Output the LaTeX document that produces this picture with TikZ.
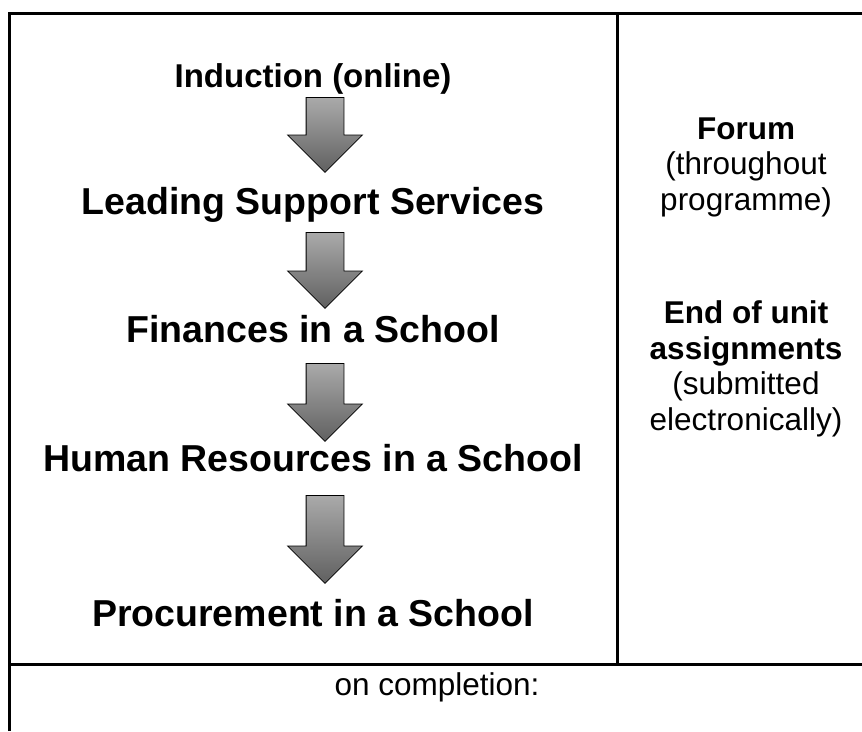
\documentclass[tikz,border=0pt]{standalone}
\usepackage{fontspec}
\setmainfont{Liberation Sans}
\usepackage{xcolor}
\usetikzlibrary{shapes.arrows}

\definecolor{arrtop}{RGB}{170,170,170}
\definecolor{arrbottom}{RGB}{96,96,96}

\begin{document}
\begin{tikzpicture}[x=1pt,y=-1pt,
    unitname/.style={font=\fontsize{37.5}{40}\selectfont\bfseries, anchor=base, inner sep=0pt},
    unittitle/.style={font=\fontsize{33}{36}\selectfont\bfseries, anchor=base, inner sep=0pt},
    sidenote/.style={font=\fontsize{31.5}{35.5}\selectfont, align=center, anchor=base, inner sep=0pt},
    downarrow/.style={shape=single arrow, shape border rotate=270, anchor=tail, draw=black, line width=0.8pt,
      top color=arrtop, bottom color=arrbottom, inner sep=18.5pt, minimum width=74pt,
      single arrow head extend=18.5pt, single arrow tip angle=90}]
      % Variables
      \def \leftx  {313}
      \def \arrx   {325}
      \def \rightx {746}

      \useasboundingbox (0,0) rectangle (862,731);

      % Table lines
      \draw [line width=3pt] (9,731) -- (9,13) -- (862,13);
      \draw [line width=3pt] (617,13) -- (617,664);
      \draw [line width=3pt] (9,664) -- (862,664);

      % Units
      \node[unittitle] (induction) at (\leftx,87)  {Induction (online)};
      \node[unitname]  (leading)   at (\leftx,214) {Leading Support Services};
      \node[unitname]  (finances)  at (\leftx,342) {Finances in a School};
      \node[unitname]  (human)     at (\leftx,471) {Human Resources in a School};
      \node[unitname]  (procure)   at (\leftx,626) {Procurement in a School};

      % Arrows (placed by the top of the shaft)
      \node[downarrow, minimum height=75pt] (arrone)   at (\arrx,97)  {};
      \node[downarrow, minimum height=76pt] (arrtwo)   at (\arrx,232) {};
      \node[downarrow, minimum height=78pt] (arrthree) at (\arrx,363) {};
      \node[downarrow, minimum height=88pt] (arrfour)  at (\arrx,495) {};

      % Side column (base = last line)
      \node[sidenote] (forum)  at (\rightx,210) {\textbf{Forum}\\(throughout\\programme)};
      \node[sidenote] (assign) at (\rightx,430) {\textbf{End of unit}\\\textbf{assignments}\\(submitted\\electronically)};

      % Bottom row
      \node[sidenote] (completion) at (437,695) {on completion:};

    \end{tikzpicture}
\end{document}
